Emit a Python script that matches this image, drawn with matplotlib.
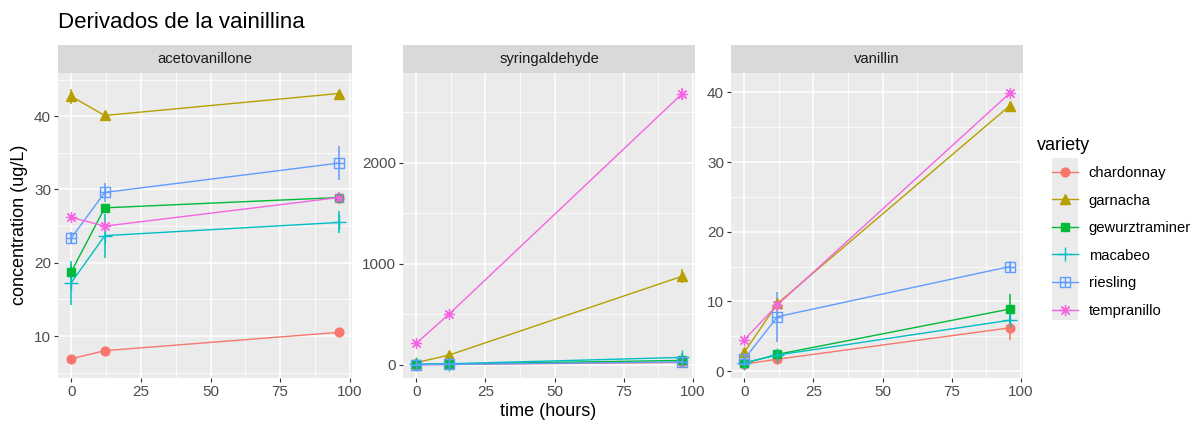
import matplotlib
matplotlib.use("Agg")
import matplotlib.pyplot as plt
from matplotlib.lines import Line2D
from matplotlib.patches import Rectangle
from matplotlib.ticker import FixedLocator

plt.rcParams["font.family"] = ["Liberation Sans", "DejaVu Sans"]

times = [0, 12, 96]
varieties = ["chardonnay", "garnacha", "gewurztraminer", "macabeo", "riesling", "tempranillo"]
colors = ["#F8766D", "#B79F00", "#00BA38", "#00BFC4", "#619CFF", "#F564E3"]
compounds = ["acetovanillone", "syringaldehyde", "vanillin"]

# means per variety (rows) at times 0, 12, 96
acet_mean = [[6.9, 8.0, 10.5],
             [42.7, 40.1, 43.1],
             [18.8, 27.5, 28.9],
             [17.3, 23.7, 25.5],
             [23.4, 29.6, 33.6],
             [26.2, 25.0, 28.9]]
acet_sd = [[0.4, 0.3, 0.6],
           [1.0, 0.4, 0.3],
           [1.0, 0.5, 0.3],
           [3.0, 3.0, 1.5],
           [0.8, 1.3, 2.3],
           [0.3, 0.6, 0.8]]

syr_mean = [[2, 5, 25],
            [23, 99, 877],
            [5, 10, 45],
            [8, 12, 75],
            [3, 6, 30],
            [215, 507, 2682]]
syr_sd = [[2, 3, 10],
          [10, 15, 70],
          [3, 4, 20],
          [5, 8, 45],
          [3, 5, 15],
          [15, 20, 60]]

van_mean = [[1.0, 1.7, 6.2],
            [2.7, 9.7, 38.1],
            [1.1, 2.4, 8.9],
            [1.2, 2.3, 7.3],
            [1.7, 7.8, 15.0],
            [4.5, 9.5, 39.9]]
van_sd = [[0.1, 0.2, 1.7],
          [0.3, 0.4, 0.5],
          [0.1, 0.3, 2.1],
          [0.1, 0.2, 1.0],
          [0.5, 3.6, 0.8],
          [0.2, 0.5, 0.4]]

means = [acet_mean, syr_mean, van_mean]
sds = [acet_sd, syr_sd, van_sd]

ylims = [(4.27, 45.9), (-129, 2891), (-1.0, 42.8)]
yticks = [[10, 20, 30, 40], [0, 1000, 2000], [0, 10, 20, 30, 40]]
yminor = [[5, 15, 25, 35, 45], [-500, 500, 1500, 2500], [5, 15, 25, 35]]

markers = ["o", "^", "s", "+", "s", (8, 2, 0)]

W, H = 1193, 421
fig = plt.figure(figsize=(W / 100, H / 100), dpi=100)

panel_x = [(58, 352), (403, 695), (731, 1023)]
ptop, pbot = 73, 378
stop = 45

grey_txt = "#4D4D4D"


def style_for(i):
    kw = dict(color=colors[i], marker=markers[i], markersize=6.3, lw=1.0)
    if markers[i] == "+":
        kw.update(markersize=10, markeredgewidth=1.0)
    elif varieties[i] == "riesling":
        kw.update(fillstyle="none", markeredgewidth=1.0, markersize=6.5)
    elif isinstance(markers[i], tuple):
        kw.update(markersize=8, markeredgewidth=0.9)
    elif markers[i] == "^":
        kw.update(markersize=7)
    return kw


for k, comp in enumerate(compounds):
    x0, x1 = panel_x[k]
    ax = fig.add_axes([x0 / W, (H - pbot) / H, (x1 - x0) / W, (pbot - ptop) / H])
    ax.set_facecolor("#EBEBEB")
    for s in ax.spines.values():
        s.set_visible(False)
    ax.set_xlim(-4.8, 100.8)
    ax.set_ylim(*ylims[k])
    ax.xaxis.set_major_locator(FixedLocator([0, 25, 50, 75, 100]))
    ax.xaxis.set_minor_locator(FixedLocator([12.5, 37.5, 62.5, 87.5]))
    ax.yaxis.set_major_locator(FixedLocator(yticks[k]))
    ax.yaxis.set_minor_locator(FixedLocator(yminor[k]))
    ax.grid(which="major", color="white", lw=1.1)
    ax.grid(which="minor", color="white", lw=0.55)
    ax.set_axisbelow(True)
    ax.tick_params(which="major", length=3, color="#333333", labelcolor=grey_txt,
                   labelsize=11, width=0.8, pad=2)
    ax.tick_params(which="minor", length=0)

    for i, var in enumerate(varieties):
        m = means[k][i]
        sd = sds[k][i]
        ax.vlines(times, [a - b for a, b in zip(m, sd)], [a + b for a, b in zip(m, sd)],
                  color=colors[i], lw=1.1, zorder=3)
        ax.plot(times, m, zorder=4, **style_for(i))
        if var == "riesling":
            ax.plot(times, m, ls="none", marker="+", color=colors[i],
                    markersize=6.5, markeredgewidth=1.0, zorder=4)

    # strip
    sax = fig.add_axes([x0 / W, (H - ptop) / H, (x1 - x0) / W, (ptop - stop) / H])
    sax.set_facecolor("#D9D9D9")
    sax.set_xticks([])
    sax.set_yticks([])
    for s in sax.spines.values():
        s.set_visible(False)
    sax.text(0.5, 0.5, comp, ha="center", va="center", fontsize=10.6,
             color="#1A1A1A", transform=sax.transAxes)

fig.text(58 / W, 1 - 22 / H, "Derivados de la vainillina", fontsize=16,
         ha="left", va="center")
fig.text(548 / W, 1 - 411 / H, "time (hours)", fontsize=13, ha="center", va="center")
fig.text(20 / W, 1 - 225 / H, "concentration (ug/L)", fontsize=13, ha="center",
         va="center", rotation=90)

# legend
fig.text(1037 / W, 1 - 145 / H, "variety", fontsize=13, ha="left", va="center")
fig.patches.append(Rectangle((1052 / W, 1 - 320 / H), 26 / W, 162 / H,
                             transform=fig.transFigure, facecolor="#EBEBEB",
                             edgecolor="none", zorder=0))
handles = []
for i, var in enumerate(varieties):
    h = Line2D([], [], **style_for(i))
    if var == "riesling":
        h2 = Line2D([], [], ls="none", marker="+", color=colors[i], markersize=6.5,
                    markeredgewidth=1.0)
        handles.append((h, h2))
    else:
        handles.append(h)
fig.legend(handles, varieties, loc="upper left",
           bbox_to_anchor=(1052 / W, 1 - 166 / H), frameon=False, fontsize=10.6,
           handlelength=1.75, handletextpad=0.75, labelspacing=0.92,
           borderpad=0, borderaxespad=0)

fig.savefig("out.png", dpi=100)
